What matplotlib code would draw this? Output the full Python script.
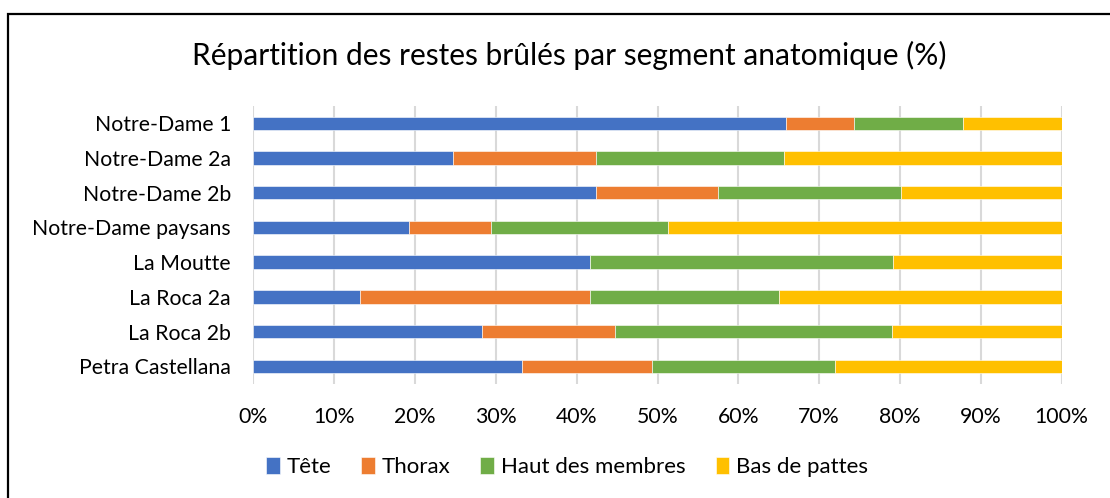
import matplotlib
matplotlib.use("Agg")
import matplotlib.pyplot as plt
from matplotlib.patches import Rectangle
from matplotlib.ticker import PercentFormatter
import numpy as np

plt.rcParams['font.family'] = ['Lato', 'DejaVu Sans']

sites = ["Notre-Dame 1", "Notre-Dame 2a", "Notre-Dame 2b", "Notre-Dame paysans",
         "La Moutte", "La Roca 2a", "La Roca 2b", "Petra Castellana"]
tete = [65.9, 24.7, 42.4, 19.2, 41.7, 13.2, 28.3, 33.3]
thorax = [8.4, 17.7, 15.1, 10.2, 0.0, 28.5, 16.4, 16.0]
haut_membres = [13.5, 23.3, 22.6, 21.9, 37.4, 23.3, 34.3, 22.7]
bas_pattes = [12.2, 34.3, 19.9, 48.7, 20.9, 35.0, 21.0, 28.0]

series = [("Tête", tete, "#4472C4"),
          ("Thorax", thorax, "#ED7D31"),
          ("Haut des membres", haut_membres, "#70AD47"),
          ("Bas de pattes", bas_pattes, "#FFC000")]

W, H = 1110, 498
fig = plt.figure(figsize=(W / 100, H / 100), dpi=100)
ax = fig.add_axes([253.3 / W, 1 - 383.6 / H, 808.4 / W, 277.6 / H])

# Stacked horizontal bars, one segment per anatomical part
y = np.arange(len(sites))
left = np.zeros(len(sites))
for name, vals, color in series:
    vals = np.array(vals)
    ax.barh(y, vals, left=left, height=0.385, color=color, label=name,
            edgecolor="white", linewidth=0.4, zorder=3)
    left += vals

ax.set_xlim(0, 100)
ax.set_ylim(len(sites) - 0.5, -0.5)
ax.set_yticks(y)
ax.set_yticklabels(sites)
ax.set_xticks(np.arange(0, 101, 10))
ax.xaxis.set_major_formatter(PercentFormatter(decimals=0))
ax.tick_params(axis="both", length=0, labelsize=15.3, colors="#000000")
ax.tick_params(axis="y", pad=16)
ax.tick_params(axis="x", pad=17)
ax.grid(axis="x", color="#d9d9d9", linewidth=1.5, zorder=0)
for s in ax.spines.values():
    s.set_visible(False)

fig.text(569 / W, 1 - 55 / H, "Répartition des restes brûlés par segment anatomique (%)",
         ha="center", va="center", fontsize=21.5)

fig.legend(loc="center", bbox_to_anchor=(567 / W, 1 - 467 / H), ncol=4,
           frameon=False, fontsize=16, handlelength=0.62, handleheight=0.85,
           handletextpad=0.3, columnspacing=1.35)

# Chart frame
fig.patches.append(Rectangle((8 / W, -0.1), 1.2, 1 - 14 / H + 0.1,
                             transform=fig.transFigure, fill=False,
                             edgecolor="black", linewidth=1.6))

fig.savefig("out.png", dpi=100)
